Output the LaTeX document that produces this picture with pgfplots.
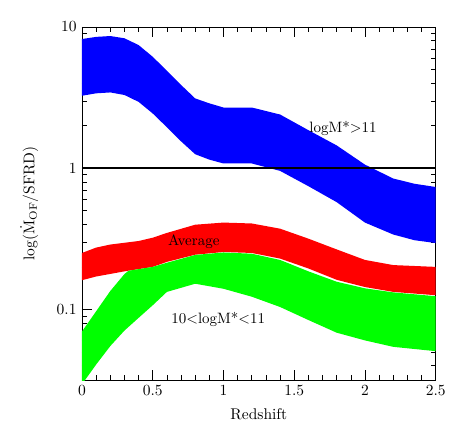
\documentclass[border=0pt]{standalone}
\usepackage{fontspec}
\usepackage{pgfplots}
\pgfplotsset{compat=1.18}
\begin{document}
\begin{tikzpicture}
\useasboundingbox (-82pt,-56pt) rectangle (381pt,380pt);
\begin{axis}[
  at={(0pt,0pt)}, anchor=south west,
  scale only axis, width=353.7pt, height=353pt,
  xmin=0, xmax=2.5, ymode=log, ymin=0.031623, ymax=10,
  xtick={0,0.5,1,1.5,2,2.5},
  xticklabels={0,0.5,1,1.5,2,2.5},
  minor x tick num=4,
  ytick={0.1,1,10}, yticklabels={0.1,1,10},
  minor ytick={0.04,0.05,0.06,0.07,0.08,0.09,0.2,0.3,0.4,0.5,0.6,0.7,0.8,0.9,2,3,4,5,6,7,8,9},
  tick align=inside, xtick pos=both, ytick pos=both,
  major tick length=10pt, minor tick length=5pt,
  every tick/.style={black, line width=0.6pt},
  axis line style={line width=0.8pt},
  tick label style={scale=1.55, transform shape},
  label style={scale=1.55, transform shape},
  /pgf/number format/assume math mode=true,
  xlabel={Redshift},
  ylabel={log($\dot{\mathrm{M}}_{\mathrm{OF}}$/SFRD)},
  xlabel style={yshift=-1pt},
  ylabel style={yshift=5pt},
  clip=true,
]
% blue band: logM*>11 (upper edge, then lower edge reversed)
\addplot[fill=blue, draw=none] coordinates {
(0,8.22) (0.1,8.51) (0.2,8.63) (0.3,8.32) (0.4,7.45) (0.5,6.15) (0.6,4.9) (0.7,3.89)
(0.8,3.12) (0.9,2.88) (1.0,2.69) (1.2,2.69) (1.4,2.40) (1.6,1.86) (1.8,1.45)
(2.0,1.06) (2.2,0.845) (2.35,0.776) (2.5,0.736)
(2.5,0.295) (2.35,0.309) (2.2,0.339) (2.0,0.412) (1.8,0.575) (1.6,0.746) (1.4,0.957)
(1.2,1.08) (1.0,1.08) (0.9,1.15) (0.8,1.256) (0.7,1.55) (0.6,1.95) (0.5,2.44)
(0.4,2.95) (0.3,3.30) (0.2,3.44) (0.1,3.39) (0,3.26)} -- cycle;
% red band: Average
\addplot[fill=red, draw=none] coordinates {
(0,0.251) (0.1,0.274) (0.2,0.288) (0.4,0.305) (0.5,0.322) (0.6,0.348) (0.8,0.398)
(1.0,0.412) (1.2,0.406) (1.4,0.373) (1.6,0.317) (1.8,0.266) (2.0,0.224) (2.2,0.206) (2.5,0.20)
(2.5,0.126) (2.2,0.133) (2.0,0.144) (1.8,0.162) (1.6,0.195) (1.4,0.229) (1.2,0.251)
(1.0,0.255) (0.8,0.244) (0.6,0.217) (0.5,0.20) (0.3,0.186) (0.1,0.171) (0,0.161)} -- cycle;
% green band: 10<logM*<11
\addplot[fill=green, draw=none] coordinates {
(0,0.0698) (0.1,0.097) (0.2,0.135) (0.3,0.178) (0.33,0.188) (0.5,0.20) (0.6,0.214)
(0.8,0.243) (1.0,0.253) (1.2,0.248) (1.4,0.224) (1.6,0.186) (1.8,0.157) (2.0,0.141)
(2.2,0.132) (2.5,0.124)
(2.5,0.0506) (2.2,0.0543) (2.0,0.0603) (1.8,0.0684) (1.6,0.0841) (1.4,0.104) (1.2,0.123)
(1.0,0.140) (0.8,0.152) (0.6,0.133) (0.5,0.107) (0.4,0.0871) (0.3,0.0708) (0.2,0.055)
(0.1,0.0407) (0,0.0295)} -- cycle;
% unity line
\addplot[black, line width=1.5pt] coordinates {(0,1) (2.5,1)};
\node[scale=1.5, transform shape] at (axis cs:1.845,1.92) {logM*>11};
\node[scale=1.5, transform shape] at (axis cs:0.79,0.30) {Average};
\node[scale=1.5, transform shape] at (axis cs:0.963,0.0845) {10<logM*<11};
\end{axis}
\end{tikzpicture}
\end{document}
